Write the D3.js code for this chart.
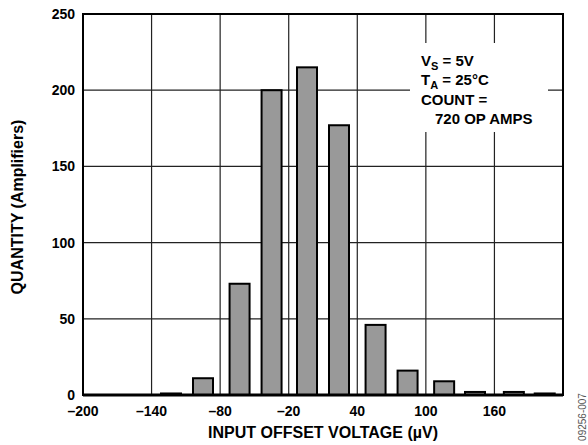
<!DOCTYPE html>
<html>
<head>
<meta charset="utf-8">
<script src="https://cdn.jsdelivr.net/npm/d3@7"></script>
<style>
  body { margin: 0; background: #fff; }
  text { font-family: "Liberation Sans", Arial, sans-serif; font-weight: bold; }
</style>
</head>
<body>
<script>
const binCenters = [-123, -95, -63, -35, -4, 24, 56, 84, 116, 143, 177, 204];
const counts = [1, 11, 73, 200, 215, 177, 46, 16, 9, 2, 2, 1];
const xTicks = [-200, -140, -80, -20, 40, 100, 160, 220];
const yTicks = [0, 50, 100, 150, 200, 250];
const infoLines = [
  ["V", "S", " = 5V"],
  ["T", "A", " = 25°C"],
  ["COUNT =", "", ""],
  ["720 OP AMPS", "", ""]
];

const width = 588, height = 445;
const margin = { top: 14, right: 25, bottom: 50, left: 83 };
const binHalf = 8.75; // half bar width in µV

const svg = d3.select("body").append("svg")
  .attr("width", width)
  .attr("height", height);

const x = d3.scaleLinear().domain([-200, 220]).range([margin.left, width - margin.right]);
const y = d3.scaleLinear().domain([0, 250]).range([height - margin.bottom, margin.top]);

// grid
svg.append("g").selectAll("line")
  .data(xTicks.slice(1, -1))
  .enter().append("line")
  .attr("x1", d => x(d)).attr("x2", d => x(d))
  .attr("y1", y(0)).attr("y2", y(250))
  .attr("stroke", "#222").attr("stroke-width", 1.2);

svg.append("g").selectAll("line")
  .data(yTicks.slice(1, -1))
  .enter().append("line")
  .attr("x1", x(-200)).attr("x2", x(220))
  .attr("y1", d => y(d)).attr("y2", d => y(d))
  .attr("stroke", "#222").attr("stroke-width", 1.2);

// info box background hides grid
svg.append("rect")
  .attr("x", 410).attr("y", 43)
  .attr("width", 138).attr("height", 89)
  .attr("fill", "#fff");

// bars
svg.append("g").selectAll("rect")
  .data(binCenters)
  .enter().append("rect")
  .attr("x", d => x(d - binHalf))
  .attr("width", d => x(d + binHalf) - x(d - binHalf))
  .attr("y", (d, i) => y(counts[i]))
  .attr("height", (d, i) => y(0) - y(counts[i]))
  .attr("fill", "#999")
  .attr("stroke", "#000")
  .attr("stroke-width", 2);

// frame
svg.append("rect")
  .attr("x", x(-200)).attr("y", y(250))
  .attr("width", x(220) - x(-200)).attr("height", y(0) - y(250))
  .attr("fill", "none").attr("stroke", "#000").attr("stroke-width", 2);
svg.append("line")
  .attr("x1", x(-200)).attr("x2", x(220))
  .attr("y1", y(0)).attr("y2", y(0))
  .attr("stroke", "#000").attr("stroke-width", 3);

// tick labels
svg.append("g").selectAll("text")
  .data(yTicks)
  .enter().append("text")
  .attr("x", x(-200) - 8)
  .attr("y", d => y(d))
  .attr("dy", "0.36em")
  .attr("text-anchor", "end")
  .style("font-size", "14px")
  .text(d => d);

svg.append("g").selectAll("text")
  .data(xTicks.slice(0, -1))
  .enter().append("text")
  .attr("x", d => x(d))
  .attr("y", y(0) + 21)
  .attr("text-anchor", "middle")
  .style("font-size", "14px")
  .text(d => d < 0 ? "–" + Math.abs(d) : d);

// axis titles
svg.append("text")
  .attr("x", 323)
  .attr("y", 438)
  .attr("text-anchor", "middle")
  .style("font-size", "16px")
  .text("INPUT OFFSET VOLTAGE (µV)");

svg.append("text")
  .attr("transform", `translate(23, 207) rotate(-90)`)
  .attr("text-anchor", "middle")
  .style("font-size", "16px")
  .text("QUANTITY (Amplifiers)");

// info text
const info = svg.append("g");
infoLines.forEach((l, i) => {
  const t = info.append("text")
    .attr("x", i === 3 ? 435 : 421)
    .attr("y", 66 + i * 19.3)
    .style("font-size", "15px");
  t.append("tspan").text(l[0]);
  if (l[1]) {
    t.append("tspan").attr("dy", 4).style("font-size", "11px").text(l[1]);
    t.append("tspan").attr("dy", -4).text(l[2]);
  }
});

// figure id
svg.append("text")
  .attr("transform", "translate(586, 417) rotate(-90)")
  .attr("text-anchor", "middle")
  .style("font-size", "10px")
  .style("font-weight", "normal")
  .attr("fill", "#555")
  .text("09256-007");
</script>
</body>
</html>
